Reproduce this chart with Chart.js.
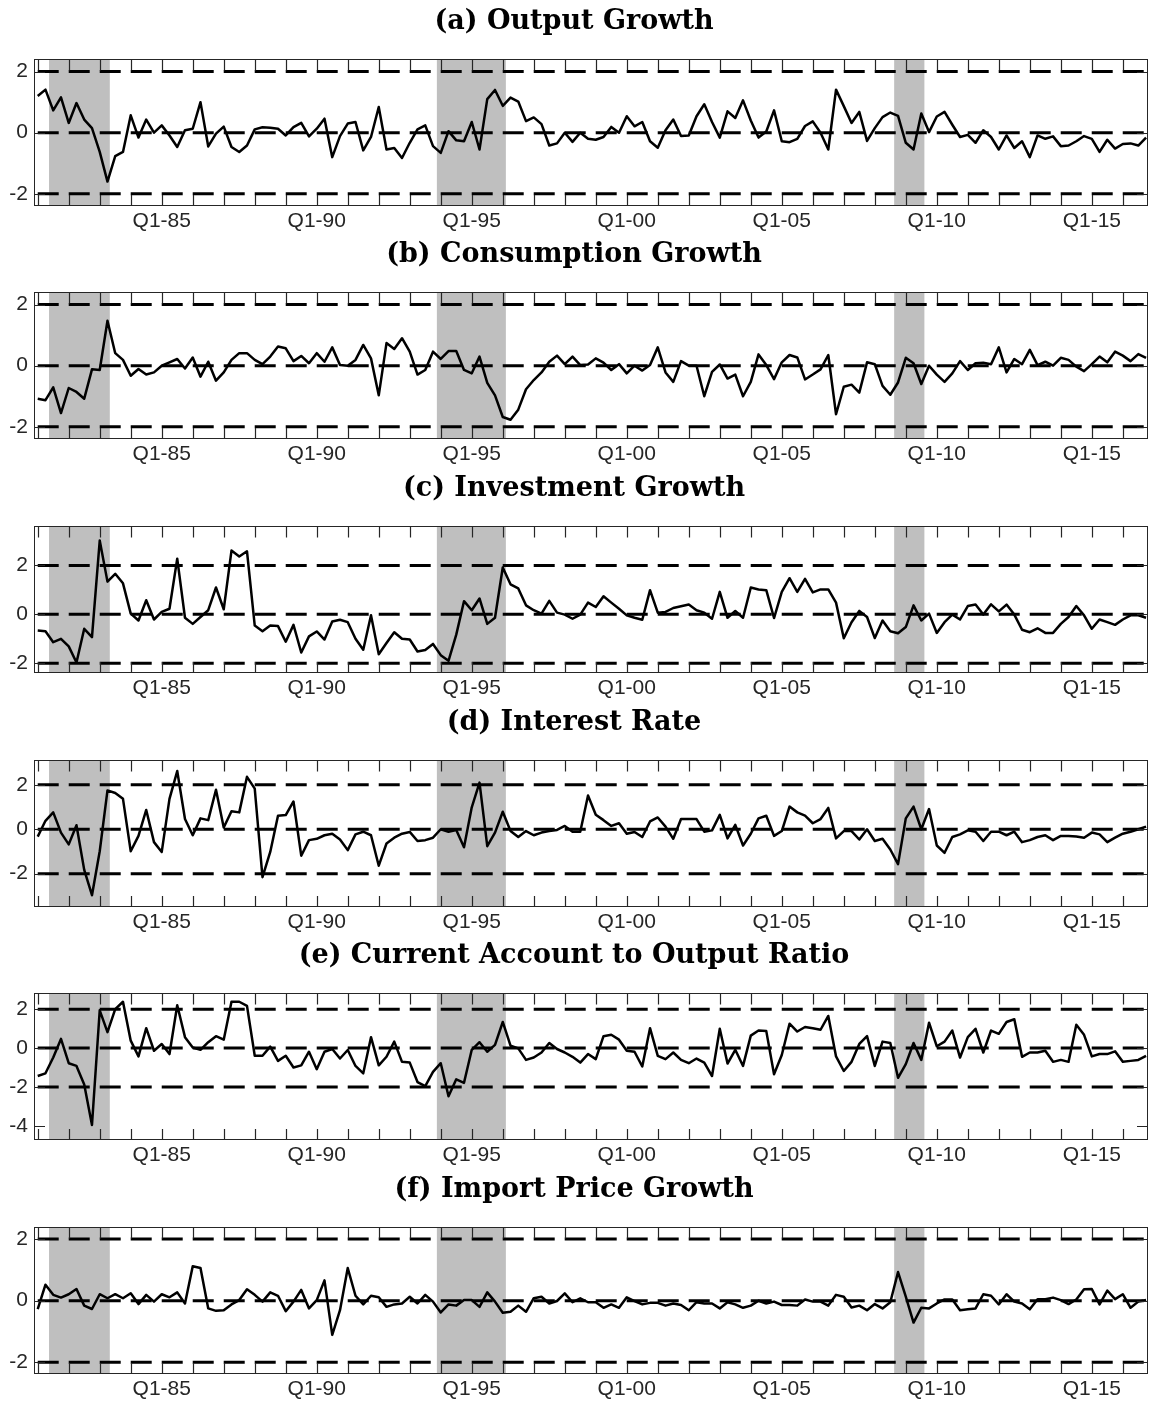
<!DOCTYPE html>
<html>
<head>
<meta charset="utf-8">
<script src="https://cdn.jsdelivr.net/npm/chart.js@4.4.1/dist/chart.umd.min.js"></script>
<style>
  body { margin: 0; background: #fff; }
  #page { position: relative; width: 1149px; height: 1403px; }
  .panel { position: absolute; left: 0; }
</style>
</head>
<body>
<div id="page"></div>
<script>
// quarterly sample, Q1-81 .. Q4-16
const startYear = 1981;
const quarters = [];
for (let y = startYear; y <= 2016; y++) {
  for (let q = 1; q <= 4; q++) quarters.push('Q' + q + '-' + String(y).slice(2));
}

// series values (one value per quarter)
const outputGrowth = [
  1.2, 1.41, 0.73, 1.16, 0.32, 0.97, 0.43, 0.15, -0.63, -1.6,
  -0.77, -0.63, 0.57, -0.16, 0.43, 0.0, 0.24, -0.09, -0.47, 0.08,
  0.13, 1.0, -0.45, -0.03, 0.2, -0.47, -0.63, -0.42, 0.11, 0.18,
  0.16, 0.13, -0.09, 0.18, 0.32, -0.12, 0.13, 0.46, -0.8, -0.11,
  0.3, 0.35, -0.58, -0.14, 0.84, -0.55, -0.5, -0.83, -0.33, 0.11,
  0.24, -0.44, -0.66, 0.05, -0.25, -0.28, 0.35, -0.55, 1.1, 1.4,
  0.88, 1.15, 1.02, 0.38, 0.5, 0.28, -0.42, -0.35, 0.0, -0.3,
  0.0, -0.2, -0.23, -0.14, 0.19, 0, 0.54, 0.21, 0.35, -0.28,
  -0.49, 0.08, 0.43, -0.11, -0.09, 0.54, 0.93, 0.35, -0.16, 0.7,
  0.48, 1.06, 0.4, -0.16, 0.04, 0.73, -0.28, -0.31, -0.2, 0.22,
  0.37, 0, -0.55, 1.41, 0.87, 0.32, 0.68, -0.27, 0.15, 0.51,
  0.66, 0.55, -0.33, -0.55, 0.63, 0.02, 0.53, 0.68, 0.26, -0.14,
  -0.07, -0.33, 0.08, -0.14, -0.55, -0.09, -0.5, -0.28, -0.8, -0.09,
  -0.2, -0.12, -0.44, -0.42, -0.28, -0.11, -0.2, -0.63, -0.23, -0.52,
  -0.37, -0.35, -0.42, -0.16
];
const consumptionGrowth = [
  -1.08, -1.13, -0.71, -1.55, -0.73, -0.86, -1.08, -0.12, -0.14, 1.47,
  0.41, 0.19, -0.33, -0.11, -0.29, -0.22, 0, 0.11, 0.22, -0.09,
  0.27, -0.36, 0.13, -0.49, -0.22, 0.19, 0.41, 0.41, 0.19, 0.05,
  0.3, 0.63, 0.57, 0.15, 0.32, 0.08, 0.41, 0.13, 0.6, 0.02,
  0, 0.19, 0.68, 0.24, -0.97, 0.74, 0.55, 0.9, 0.46, -0.29,
  -0.14, 0.46, 0.22, 0.48, 0.48, -0.14, -0.25, 0.3, -0.56, -0.97,
  -1.68, -1.77, -1.44, -0.77, -0.47, -0.22, 0.13, 0.33, 0.05, 0.3,
  0.02, 0.04, 0.24, 0.1, -0.14, 0.05, -0.25, 0, -0.16, 0.02,
  0.6, -0.22, -0.53, 0.15, 0, 0, -1.0, -0.2, 0.04, -0.42,
  -0.29, -1.0, -0.53, 0.37, 0.02, -0.44, 0.11, 0.35, 0.27, -0.45,
  -0.29, -0.12, 0.35, -1.59, -0.69, -0.62, -0.88, 0.11, 0.05, -0.66,
  -0.95, -0.55, 0.26, 0.08, -0.6, 0, -0.29, -0.53, -0.25, 0.15,
  -0.14, 0.08, 0.1, 0.05, 0.6, -0.22, 0.22, 0.05, 0.52, 0.02,
  0.13, 0, 0.26, 0.19, -0.03, -0.18, 0.05, 0.3, 0.11, 0.46,
  0.33, 0.15, 0.38, 0.26
];
const investmentGrowth = [
  -0.66, -0.69, -1.14, -1.0, -1.31, -1.97, -0.59, -0.93, 3.02, 1.34,
  1.66, 1.27, 0.03, -0.25, 0.58, -0.21, 0.1, 0.23, 2.28, -0.14,
  -0.39, -0.11, 0.17, 1.1, 0.21, 2.61, 2.37, 2.58, -0.46, -0.69,
  -0.46, -0.48, -1.12, -0.43, -1.56, -0.9, -0.7, -1.03, -0.29, -0.22,
  -0.32, -1.0, -1.45, -0.04, -1.63, -1.17, -0.73, -1.0, -1.03, -1.52,
  -1.46, -1.21, -1.67, -1.9, -0.83, 0.54, 0.17, 0.65, -0.39, -0.14,
  1.92, 1.23, 1.06, 0.37, 0.17, 0.03, 0.55, 0.07, -0.01, -0.18,
  -0.01, 0.48, 0.3, 0.74, 0.48, 0.23, -0.04, -0.14, -0.22, 0.99,
  0.07, 0.1, 0.26, 0.33, 0.4, 0.17, 0.07, -0.18, 0.92, -0.14,
  0.14, -0.14, 1.1, 1.02, 0.99, -0.15, 0.92, 1.48, 0.92, 1.45,
  0.9, 1.02, 1.02, 0.48, -0.98, -0.32, 0.14, -0.11, -0.97, -0.25,
  -0.69, -0.77, -0.52, 0.37, -0.25, 0.03, -0.76, -0.32, -0.01, -0.21,
  0.34, 0.4, -0.01, 0.41, 0.12, 0.4, -0.01, -0.63, -0.73, -0.57,
  -0.76, -0.76, -0.39, -0.11, 0.34, -0.04, -0.59, -0.21, -0.32, -0.43,
  -0.21, -0.04, -0.04, -0.14
];
const interestRate = [
  -0.33, 0.38, 0.76, -0.15, -0.68, 0.18, -1.83, -2.97, -0.99, 1.75,
  1.63, 1.37, -0.99, -0.3, 0.87, -0.58, -1.02, 1.37, 2.62, 0.46,
  -0.27, 0.49, 0.41, 1.78, 0.08, 0.81, 0.76, 2.36, 1.83, -2.16,
  -1.02, 0.61, 0.64, 1.25, -1.19, -0.49, -0.43, -0.27, -0.2, -0.46,
  -0.94, -0.23, -0.11, -0.27, -1.64, -0.64, -0.38, -0.2, -0.12, -0.53,
  -0.49, -0.38, 0, -0.11, -0.03, -0.81, 0.99, 2.1, -0.76, -0.15,
  0.79, -0.08, -0.35, -0.08, -0.27, -0.15, -0.08, -0.03, 0.15, -0.11,
  -0.11, 1.52, 0.65, 0.41, 0.15, 0.27, -0.2, -0.12, -0.35, 0.35,
  0.53, 0.12, -0.43, 0.46, 0.46, 0.46, -0.11, -0.05, 0.65, -0.41,
  0.2, -0.73, -0.2, 0.49, 0.61, -0.3, -0.08, 1.02, 0.76, 0.61,
  0.27, 0.46, 0.96, -0.41, -0.08, -0.08, -0.46, 0, -0.53, -0.43,
  -0.91, -1.57, 0.49, 1.02, 0, 0.91, -0.73, -1.06, -0.35, -0.23,
  -0.05, -0.11, -0.53, -0.11, -0.11, -0.27, -0.11, -0.58, -0.49, -0.35,
  -0.27, -0.49, -0.3, -0.3, -0.33, -0.38, -0.15, -0.23, -0.58, -0.38,
  -0.2, -0.11, 0, 0.12
];
const currentAccountRatio = [
  -1.44, -1.3, -0.49, 0.47, -0.78, -0.92, -1.88, -3.96, 1.94, 0.82,
  2.0, 2.38, 0.38, -0.43, 1.02, -0.14, 0.21, -0.31, 2.2, 0.56,
  0.03, -0.09, 0.3, 0.61, 0.43, 2.38, 2.38, 2.17, -0.4, -0.4,
  0.07, -0.66, -0.4, -1.0, -0.89, -0.19, -1.09, -0.19, -0.05, -0.54,
  -0.1, -0.92, -1.3, 0.56, -0.89, -0.45, 0.33, -0.71, -0.75, -1.75,
  -1.96, -1.23, -0.78, -2.48, -1.61, -1.79, -0.09, 0.3, -0.19, 0.16,
  1.34, 0.12, -0.02, -0.61, -0.49, -0.23, 0.26, -0.05, -0.23, -0.45,
  -0.75, -0.31, -0.57, 0.61, 0.68, 0.43, -0.14, -0.19, -0.95, 1.02,
  -0.4, -0.57, -0.23, -0.61, -0.78, -0.54, -0.75, -1.44, 0.99, -0.8,
  -0.09, -0.92, 0.64, 0.9, 0.87, -1.35, -0.36, 1.25, 0.85, 1.08,
  1.02, 0.94, 1.65, -0.43, -1.18, -0.71, 0.21, 0.61, -0.92, 0.33,
  0.26, -1.53, -0.83, 0.26, -0.61, 1.3, 0.09, 0.33, 0.9, -0.49,
  0.56, 0.99, -0.23, 0.9, 0.73, 1.34, 1.48, -0.45, -0.23, -0.23,
  -0.14, -0.71, -0.61, -0.71, 1.2, 0.68, -0.43, -0.31, -0.31, -0.17,
  -0.71, -0.66, -0.61, -0.4
];
const importPriceGrowth = [
  -0.27, 0.52, 0.19, 0.1, 0.21, 0.38, -0.16, -0.27, 0.21, 0.08,
  0.21, 0.08, 0.24, -0.11, 0.19, -0.03, 0.21, 0.11, 0.27, -0.09,
  1.12, 1.06, -0.25, -0.33, -0.31, -0.12, 0.02, 0.37, 0.19, -0.03,
  0.27, 0.16, -0.34, -0.03, 0.35, -0.25, 0.02, 0.66, -1.11, -0.31,
  1.06, 0.16, -0.12, 0.16, 0.11, -0.2, -0.12, -0.09, 0.13, -0.09,
  0.19, -0.03, -0.38, -0.12, -0.16, 0.02, 0.02, -0.2, 0.27, -0.03,
  -0.39, -0.36, -0.16, -0.36, 0.08, 0.13, -0.09, -0.01, 0.24, -0.05,
  0.08, -0.05, -0.05, -0.23, -0.12, -0.23, 0.11, -0.01, -0.12, -0.07,
  -0.07, -0.16, -0.09, -0.14, -0.31, -0.05, -0.09, -0.09, -0.25, -0.05,
  -0.12, -0.23, -0.16, 0, -0.09, -0.03, -0.14, -0.14, -0.16, 0.04,
  -0.03, -0.03, -0.16, 0.19, 0.13, -0.22, -0.16, -0.31, -0.11, -0.25,
  -0.05, 0.93, 0.13, -0.71, -0.23, -0.25, -0.09, 0.04, 0.04, -0.31,
  -0.28, -0.25, 0.21, 0.16, -0.12, 0.21, -0.03, -0.09, -0.28, 0.05,
  0.05, 0.1, 0.02, -0.11, 0.04, 0.37, 0.38, -0.12, 0.33, 0.05,
  0.21, -0.23, -0.03, 0.02
];

// shaded periods, in quarter index units from Q1-81
const recessions = [[1.46, 9.3], [51.5, 60.4], [110.5, 114.4]];
// dashed reference levels
const bandLevels = [-2, 0, 2];

const panels = [
  { title: '(a) Output Growth', values: outputGrowth, yMin: -2.4, yMax: 2.4, yTicks: [-2, 0, 2] },
  { title: '(b) Consumption Growth', values: consumptionGrowth, yMin: -2.4, yMax: 2.4, yTicks: [-2, 0, 2] },
  { title: '(c) Investment Growth', values: investmentGrowth, yMin: -2.4, yMax: 3.6, yTicks: [-2, 0, 2] },
  { title: '(d) Interest Rate', values: interestRate, yMin: -3.5, yMax: 3.1, yTicks: [-2, 0, 2] },
  { title: '(e) Current Account to Output Ratio', values: currentAccountRatio, yMin: -4.73, yMax: 2.81, yTicks: [-4, -2, 0, 2] },
  { title: '(f) Import Price Growth', values: importPriceGrowth, yMin: -2.38, yMax: 2.38, yTicks: [-2, 0, 2] }
];

const panelTops = [0, 233, 467, 701, 934, 1168];
const xMin = -0.48, xMax = 143.25;
const yearStarts = quarters.map((q, i) => i).filter(i => i % 4 === 0);
const axisColor = '#262626';

// grey bands behind the lines, box and inward tick marks on top
const axisDecor = {
  id: 'axisDecor',
  beforeDatasetsDraw(chart) {
    const { ctx, chartArea: a, scales: { x } } = chart;
    ctx.save();
    ctx.fillStyle = '#bfbfbf';
    recessions.forEach(([s, e]) => {
      const x0 = Math.max(x.getPixelForValue(s), a.left);
      const x1 = Math.min(x.getPixelForValue(e), a.right);
      ctx.fillRect(x0, a.top, x1 - x0, a.bottom - a.top);
    });
    ctx.restore();
  },
  afterDraw(chart) {
    const { ctx, chartArea: a, scales: { x, y } } = chart;
    const len = 11;
    ctx.save();
    ctx.strokeStyle = axisColor;
    ctx.lineWidth = 1.2;
    ctx.beginPath();
    yearStarts.forEach(v => {
      const px = Math.round(x.getPixelForValue(v)) + 0.5;
      ctx.moveTo(px, a.bottom);
      ctx.lineTo(px, a.bottom - len);
      ctx.moveTo(px, a.top);
      ctx.lineTo(px, a.top + len);
    });
    y.ticks.forEach(t => {
      const py = Math.round(y.getPixelForValue(t.value)) + 0.5;
      ctx.moveTo(a.left, py);
      ctx.lineTo(a.left + len, py);
      ctx.moveTo(a.right, py);
      ctx.lineTo(a.right - len, py);
    });
    ctx.stroke();
    ctx.lineWidth = 1;
    ctx.strokeRect(Math.round(a.left) + 0.5, Math.round(a.top) + 0.5,
      Math.round(a.right - a.left) - 1, Math.round(a.bottom - a.top) - 1);
    ctx.restore();
  }
};

const page = document.getElementById('page');

panels.forEach((p, k) => {
  const canvas = document.createElement('canvas');
  canvas.className = 'panel';
  canvas.width = 1149;
  canvas.height = 233;
  canvas.style.top = panelTops[k] + 'px';
  page.appendChild(canvas);

  const refSets = bandLevels.map(level => ({
    data: [{ x: 0, y: level }, { x: xMax, y: level }],
    borderColor: '#000',
    borderWidth: 3,
    borderDash: [21, 10],
    pointRadius: 0,
    clip: 0
  }));

  new Chart(canvas, {
    type: 'line',
    data: {
      datasets: refSets.concat([{
        data: p.values.map((v, i) => ({ x: i, y: v })),
        borderColor: '#000',
        borderWidth: 2.5,
        borderJoinStyle: 'round',
        pointRadius: 0,
        tension: 0,
        clip: 0
      }])
    },
    options: {
      responsive: false,
      animation: false,
      devicePixelRatio: 1,
      layout: { padding: { left: 0, right: 1, top: 0, bottom: 0 } },
      plugins: {
        legend: { display: false },
        tooltip: { enabled: false },
        title: {
          display: true,
          text: p.title,
          color: '#000',
          font: { family: 'DejaVu Serif', weight: 'bold', size: 27, lineHeight: 1.2 },
          padding: { top: 6, bottom: 21 }
        }
      },
      scales: {
        x: {
          type: 'linear',
          min: xMin,
          max: xMax,
          grid: { display: false, drawTicks: false },
          border: { display: false },
          afterBuildTicks: s => { s.ticks = yearStarts.map(v => ({ value: v })); },
          afterFit: s => { s.height = 27; },
          ticks: {
            autoSkip: false,
            maxRotation: 0,
            padding: 5,
            color: axisColor,
            font: { family: 'Liberation Sans', size: 21, lineHeight: 1 },
            callback: v => ((startYear + v / 4) % 5 === 0 ? quarters[v] : '')
          }
        },
        y: {
          min: p.yMin,
          max: p.yMax,
          grid: { display: false, drawTicks: false },
          border: { display: false },
          afterBuildTicks: s => { s.ticks = p.yTicks.map(v => ({ value: v })); },
          afterFit: s => { s.width = 34; },
          ticks: {
            padding: 6,
            color: axisColor,
            font: { family: 'Liberation Sans', size: 21, lineHeight: 1 },
            callback: v => String(v)
          }
        }
      }
    },
    plugins: [axisDecor]
  });
});
</script>
</body>
</html>
